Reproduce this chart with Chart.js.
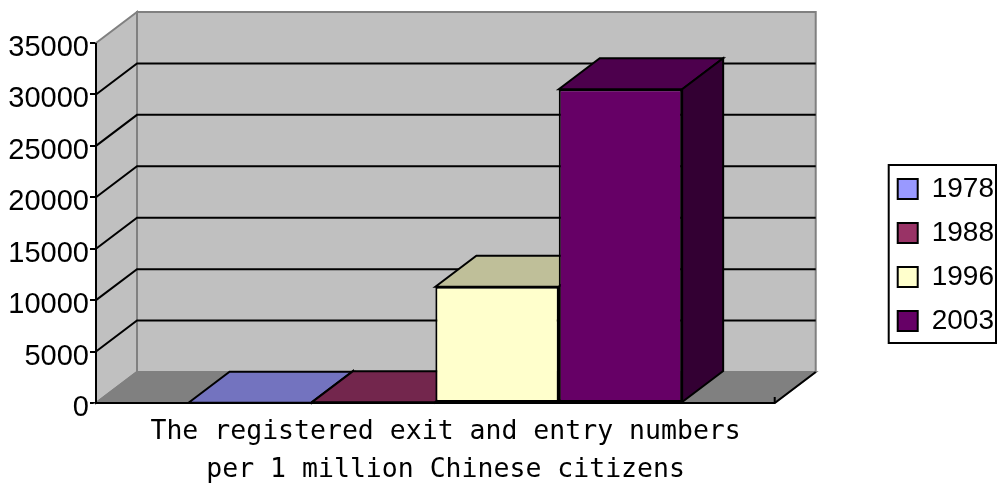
<!DOCTYPE html>
<html>
<head>
<meta charset="utf-8">
<title>Registered exit and entry numbers</title>
<script src="https://cdn.jsdelivr.net/npm/chart.js@4.4.1/dist/chart.umd.min.js"></script>
<style>
  html, body { margin: 0; padding: 0; background: #fff; }
  canvas { display: block; }
</style>
</head>
<body>
<canvas id="chart" width="1004" height="489"></canvas>
<script>
// values
const years = ['1978', '1988', '1996', '2003'];
const perMillion = [20, 80, 11300, 30500];
const yTicks = [0, 5000, 10000, 15000, 20000, 25000, 30000, 35000];
const axisTitle = ['The registered exit and entry numbers', 'per 1 million Chinese citizens'];

const barColors = ['#9999ff', '#993366', '#ffffcc', '#660066'];
const DEPTH = { x: 41, y: -31 }; // Excel 3-D offset of the back wall

function shade(hex, f) {
  const n = parseInt(hex.slice(1), 16);
  const r = Math.round(((n >> 16) & 255) * f);
  const g = Math.round(((n >> 8) & 255) * f);
  const b = Math.round((n & 255) * f);
  return `rgb(${r},${g},${b})`;
}

function poly(ctx, pts, fill, stroke) {
  ctx.beginPath();
  ctx.moveTo(pts[0][0], pts[0][1]);
  for (let i = 1; i < pts.length; i++) ctx.lineTo(pts[i][0], pts[i][1]);
  ctx.closePath();
  ctx.fillStyle = fill;
  ctx.fill();
  ctx.strokeStyle = stroke;
  ctx.stroke();
}

// walls, floor, gridlines and the top/side faces of the columns
const box3d = {
  id: 'box3d',
  afterLayout(chart) {
    // legend sits a little above the canvas centre in the original
    chart.legend.top -= 11;
    chart.legend.bottom -= 11;
    // Excel centres the axis title over the plot including its depth
    chart.scales.x.right += DEPTH.x / 2;
  },
  beforeDatasetsDraw(chart) {
    const { ctx, chartArea: a } = chart;
    const y = chart.scales.y;
    const dx = DEPTH.x, dy = DEPTH.y;
    ctx.save();
    ctx.lineWidth = 2;
    ctx.lineJoin = 'miter';

    poly(ctx, [[a.left + dx, a.top + dy], [a.right + dx, a.top + dy], [a.right + dx, a.bottom + dy], [a.left + dx, a.bottom + dy]], '#c0c0c0', '#808080');
    poly(ctx, [[a.left, a.top], [a.left + dx, a.top + dy], [a.left + dx, a.bottom + dy], [a.left, a.bottom]], '#c0c0c0', '#808080');
    poly(ctx, [[a.left, a.bottom], [a.left + dx, a.bottom + dy], [a.right + dx, a.bottom + dy], [a.right, a.bottom]], '#808080', '#808080');

    ctx.strokeStyle = '#000';
    y.ticks.forEach(t => {
      if (t.value === y.min || t.value === y.max) return;
      const py = y.getPixelForValue(t.value);
      ctx.beginPath();
      ctx.moveTo(a.left, py);
      ctx.lineTo(a.left + dx, py + dy);
      ctx.lineTo(a.right + dx, py + dy);
      ctx.stroke();
    });

    // front edges
    ctx.beginPath();
    ctx.moveTo(a.left, a.top);
    ctx.lineTo(a.left, a.bottom);
    ctx.lineTo(a.right, a.bottom);
    ctx.lineTo(a.right + dx, a.bottom + dy);
    ctx.stroke();
    ctx.beginPath();
    ctx.moveTo(a.right, a.bottom);
    ctx.lineTo(a.right, a.bottom - 6);
    ctx.stroke();

    // tops and sides left to right, Chart.js paints the fronts after this
    chart.data.datasets.forEach((ds, i) => {
      chart.getDatasetMeta(i).data.forEach(bar => {
        const { x, y: top, base, width } = bar.getProps(['x', 'y', 'base', 'width'], true);
        const l = x - width / 2, r = x + width / 2;
        poly(ctx, [[l, top], [l + dx, top + dy], [r + dx, top + dy], [r, top]], shade(ds.backgroundColor, 0.75), '#000');
        poly(ctx, [[r, top], [r + dx, top + dy], [r + dx, base + dy], [r, base]], shade(ds.backgroundColor, 0.5), '#000');
      });
    });
    ctx.restore();
  },
  afterDraw(chart) {
    // frame round the legend
    const hb = chart.legend.legendHitBoxes;
    if (!hb || !hb.length) return;
    const l = Math.min(...hb.map(h => h.left)) - 9;
    const r = Math.max(...hb.map(h => h.left + h.width)) + 2;
    const t = hb[0].top - 10;
    const last = hb[hb.length - 1];
    const b = last.top + last.height + 8;
    const ctx = chart.ctx;
    ctx.save();
    ctx.lineWidth = 2;
    ctx.strokeStyle = '#000';
    ctx.strokeRect(l, t, r - l, b - t);
    ctx.restore();
  }
};

Chart.defaults.font.family = "'Liberation Sans', Arial, sans-serif";
Chart.defaults.color = '#000';

new Chart(document.getElementById('chart'), {
  type: 'bar',
  data: {
    labels: [''],
    datasets: years.map((yr, i) => ({
      label: yr,
      data: [perMillion[i]],
      backgroundColor: barColors[i],
      borderColor: '#000',
      borderWidth: 2,
      borderSkipped: false,
      barPercentage: 1,
      categoryPercentage: 4 / 5.5,
      xAxisID: 'x',
      yAxisID: 'y'
    }))
  },
  options: {
    responsive: false,
    animation: false,
    devicePixelRatio: 1,
    events: [],
    layout: { padding: { top: 43, right: 0, bottom: 0, left: 0 } },
    plugins: {
      legend: {
        position: 'right',
        labels: {
          boxWidth: 20,
          boxHeight: 20,
          padding: 16,
          color: '#000',
          font: { size: 28 }
        }
      },
      tooltip: { enabled: false }
    },
    scales: {
      x: {
        grid: { display: false, drawTicks: false },
        border: { display: false },
        ticks: { display: false },
        title: {
          display: true,
          text: axisTitle,
          color: '#000',
          font: { family: "'DejaVu Sans Mono', monospace", size: 26.5, lineHeight: '38px' },
          padding: { top: 10, bottom: 0 }
        }
      },
      y: {
        min: yTicks[0],
        max: yTicks[yTicks.length - 1],
        afterBuildTicks: s => { s.ticks = yTicks.map(v => ({ value: v })); },
        afterFit: s => { s.width = 96; },
        grid: { drawOnChartArea: false, drawTicks: true, tickLength: 6, color: '#000', lineWidth: 2 },
        border: { display: false },
        ticks: {
          color: '#000',
          font: { size: 29 },
          padding: 1,
          labelOffset: 5,
          callback: v => String(v)
        }
      },
      // empty strip that leaves room for the 3-D depth between plot and legend
      depth: {
        type: 'linear',
        position: 'right',
        ticks: { display: false },
        grid: { display: false, drawTicks: false },
        border: { display: false },
        afterFit: s => { s.width = 107; }
      }
    }
  },
  plugins: [box3d]
});
</script>
</body>
</html>
